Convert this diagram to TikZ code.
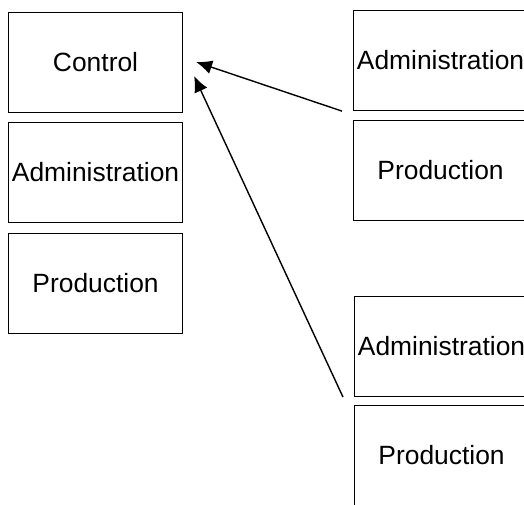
\documentclass[tikz,border=0pt]{standalone}
\usepackage{fontspec}
\setmainfont{Liberation Sans}
\usetikzlibrary{arrows.meta}
\begin{document}
\begin{tikzpicture}[x=1pt,y=-1pt,
  unit/.style={draw, line width=1.1pt, minimum width=174pt, minimum height=100pt,
    anchor=north west, inner sep=0pt, font=\fontsize{26.4}{30}\selectfont},
  link/.style={line width=1.4pt, -{Latex[length=16pt,width=14pt]}}]
  \useasboundingbox (0,0) rectangle (524,504);
  \clip (0,0) rectangle (524,504);
  % left column: the controlling organisation
  \node[unit] (ctrl)  at (8,12)  {Control};
  \node[unit] (ladm)  at (8,122) {Administration};
  \node[unit] (lprod) at (8,233) {Production};
  % right column: two controlled units
  \node[unit] (radm1)  at (353,10)  {Administration};
  \node[unit] (rprod1) at (353,120) {Production};
  \node[unit] (radm2)  at (354,296) {Administration};
  \node[unit] (rprod2) at (354,405) {Production};
  % connector ends
  \coordinate (s1) at ([xshift=-11pt]radm1.south west);
  \coordinate (s2) at ([xshift=-11pt]radm2.south west);
  \coordinate (t1) at ([xshift=13pt,yshift=-50pt]ctrl.north east);
  \coordinate (t2) at ([xshift=11pt,yshift=-64pt]ctrl.north east);
  \draw[link] (s1) -- (t1);
  \draw[link] (s2) -- (t2);
\end{tikzpicture}
\end{document}
